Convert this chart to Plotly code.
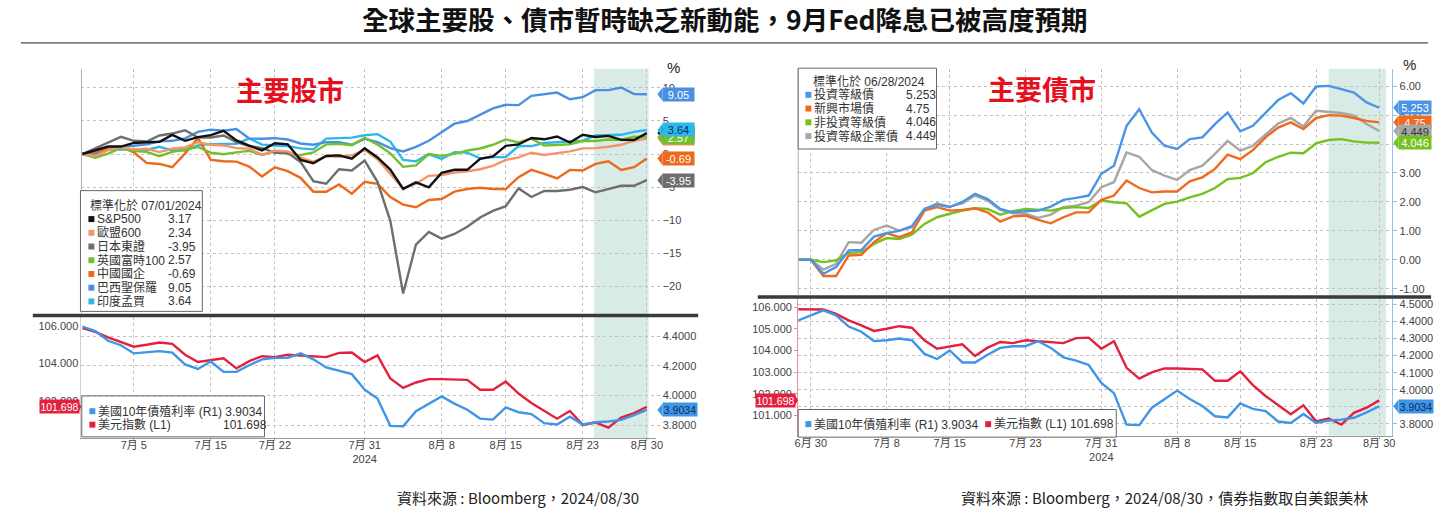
import pandas as pd
import plotly.graph_objects as go

W, H = 1449, 512

# trading days shown on the x axes
days = [d.strftime("%Y-%m-%d") for d in pd.bdate_range("2024-07-01", "2024-08-30")]
bond_days = ["2024-06-27", "2024-06-28"] + days

# ---- left: stock indices, % change since 07/01/2024 ----
sp500 = [0, 0.62, 1.13, 1.13, 1.68, 1.79, 1.86, 2.90, 2.00, 2.56, 2.85, 3.51, 2.07, 1.27, 0.55,
         1.63, 1.47, -0.88, -1.39, -0.29, -0.21, -0.71, 0.86, -0.52, -2.35, -5.27, -4.29, -5.03,
         -2.85, -2.39, -2.39, -0.74, -0.36, 1.24, 1.45, 2.43, 2.23, 2.66, 1.75, 2.91, 2.59, 2.75,
         2.14, 2.13, 3.17]
stoxx600 = [0, -0.3, 0.6, 1.0, 0.7, 0.8, 0.3, 0.8, 1.0, 1.8, 1.4, 1.3, 0.9, 0.8, -0.1, 0.5, 0.4,
            -0.5, -1.2, -0.3, -0.4, -0.2, 0.6, -0.8, -3.0, -5.2, -4.5, -3.3, -3.2, -2.8, -2.6,
            -2.3, -1.8, -0.9, -0.5, 0.2, -0.15, 0.1, 0.4, 0.86, 0.9, 1.1, 1.4, 2.0, 2.34]
topix = [0, 0.9, 1.7, 2.6, 2.0, 1.9, 2.8, 3.1, 3.6, 2.5, 2.5, 2.8, 1.8, 1.2, 0.9, 0.2, 0.2, -1.2,
         -4.1, -4.5, -2.3, -2.5, -1.0, -4.2, -10.1, -21.1, -13.7, -11.8, -12.8, -12.1, -11.0,
         -9.6, -8.6, -7.9, -5.2, -6.5, -5.6, -5.6, -5.4, -5.0, -5.8, -5.3, -4.8, -4.8, -3.95]
ftse100 = [0, -0.56, 0.05, 0.91, 0.45, 0.33, -0.33, 0.33, 0.69, 1.06, 0.20, -0.02, 0.25, 0.47,
           -0.14, 0.39, 0.01, -0.16, 0.24, 1.46, 1.54, 1.32, 2.46, 1.43, 0.10, -1.94, -1.72, 0.00,
           -0.27, 0.02, 0.53, 0.84, 1.40, 2.21, 1.77, 2.33, 1.30, 1.43, 1.48, 1.97, 1.97, 2.19,
           2.17, 2.61, 2.57]
hscei = [0, 0.4, 0.75, 1.1, 0.25, -1.35, -1.5, -2.0, 0.1, 2.4, -0.9, -1.1, -1.15, -1.9, -3.4,
         -2.0, -2.6, -3.6, -5.7, -5.7, -4.6, -6.0, -4.2, -4.5, -6.5, -7.65, -8.05, -6.95, -6.8,
         -5.7, -5.3, -5.1, -5.3, -5.3, -3.5, -2.4, -3.0, -3.7, -2.4, -2.5, -1.5, -1.1, -2.4,
         -2.0, -0.69]
bovespa = [0, 0.06, 0.76, 1.16, 1.24, 1.47, 1.92, 2.0, 2.37, 3.35, 3.69, 3.52, 3.79, 2.35, 2.32,
           2.4, 2.2, 1.6, 1.4, 1.8, 1.8, 1.4, 2.3, 1.8, 0.9, 0.4, 1.1, 2.0, 3.3, 4.6, 5.0, 6.0,
           6.9, 7.45, 7.4, 8.8, 9.06, 9.3, 8.3, 8.6, 9.67, 9.67, 10.07, 9.06, 9.05]
sensex = [0, -0.04, 0.64, 0.72, 0.65, 0.61, 1.10, 0.56, 0.53, 1.31, 1.50, 1.56, 1.56, 2.35, 1.42,
          1.29, 1.20, 0.85, 0.71, 2.34, 2.36, 2.49, 2.85, 3.01, 1.89, -0.90, -1.11, -0.01, -0.74,
          0.29, 0.22, -0.65, -0.47, -0.47, 1.21, 1.19, 1.67, 1.80, 1.98, 2.03, 2.80, 2.81, 2.91,
          3.35, 3.64]

stock_names = ["S&P500", "歐盟600", "日本東證", "英國富時100", "中國國企", "巴西聖保羅", "印度孟買"]
stock_labels = ["3.17", "2.34", "-3.95", "2.57", "-0.69", "9.05", "3.64"]
stock_colors = ["#111111", "#f2956b", "#6e6e6e", "#72c12c", "#ec6a1c", "#4a8fe0", "#2bb8ec"]
stock_series = [sp500, stoxx600, topix, ftse100, hscei, bovespa, sensex]

# ---- right: bond indices, % change since 06/28/2024 ----
ig = [0, 0, -0.48, -0.25, 0.32, 0.34, 0.80, 0.92, 1.0, 1.16, 1.76, 1.90, 1.82, 2.0, 2.28, 2.10,
      1.76, 1.64, 1.68, 1.70, 1.84, 2.07, 2.14, 2.22, 2.97, 3.25, 4.63, 5.20, 4.40, 3.94, 3.83,
      4.17, 4.23, 4.69, 5.09, 4.44, 4.63, 5.09, 5.52, 5.76, 5.40, 5.99, 6.01, 5.90, 5.78, 5.44,
      5.253]
em = [0, 0, -0.56, -0.56, 0.15, 0.17, 0.61, 0.92, 0.78, 0.95, 1.70, 1.82, 1.70, 1.72, 1.78, 1.64,
      1.32, 1.50, 1.53, 1.38, 1.26, 1.47, 1.64, 1.64, 2.07, 2.22, 2.74, 2.48, 2.33, 2.36, 2.36,
      2.71, 2.85, 3.14, 3.63, 3.48, 3.79, 4.23, 4.57, 4.75, 4.52, 4.90, 5.00, 4.98, 4.90, 4.80,
      4.75]
hy = [0, 0, -0.08, -0.02, 0.24, 0.26, 0.55, 0.75, 0.72, 0.87, 1.24, 1.47, 1.59, 1.70, 1.78, 1.76,
      1.56, 1.68, 1.76, 1.72, 1.70, 1.79, 1.82, 1.79, 2.05, 1.99, 1.95, 1.49, 1.70, 1.93, 2.01,
      2.16, 2.28, 2.48, 2.79, 2.83, 2.99, 3.37, 3.56, 3.70, 3.68, 4.02, 4.14, 4.17, 4.09, 4.05,
      4.046]
ig_corp = [0, 0, -0.34, -0.14, 0.61, 0.59, 1.03, 1.18, 1.01, 1.13, 1.74, 1.95, 1.84, 1.95, 2.22,
           2.05, 1.72, 1.61, 1.59, 1.45, 1.56, 1.82, 1.87, 1.99, 2.51, 2.68, 3.71, 3.56, 3.10,
           2.91, 2.76, 3.10, 3.25, 3.66, 4.11, 3.77, 3.94, 4.32, 4.71, 4.90, 4.61, 5.15, 5.11,
           5.07, 4.98, 4.69, 4.449]

bond_names = ["投資等級債", "新興市場債", "非投資等級債", "投資等級企業債"]
bond_labels = ["5.253", "4.75", "4.046", "4.449"]
bond_colors = ["#4a95e6", "#ef6a1f", "#74c21f", "#a6a6a6"]
bond_series = [ig, em, hy, ig_corp]

# ---- dollar index and US 10y yield ----
dxy = [105.89, 105.69, 105.39, 105.16, 104.90, 105.00, 105.12, 105.05, 104.47, 104.08, 104.19,
       104.28, 103.74, 104.13, 104.39, 104.34, 104.47, 104.42, 104.39, 104.34, 104.57, 104.59,
       104.08, 104.43, 103.20, 102.70, 102.99, 103.17, 103.17, 103.14, 103.13, 102.60, 102.60,
       103.04, 102.40, 101.90, 101.47, 101.06, 101.47, 100.73, 100.86, 100.58, 101.12, 101.36,
       101.698]
dxy_pre = [105.90, 105.88]
ust10y = [4.465, 4.436, 4.37, 4.34, 4.285, 4.29, 4.30, 4.29, 4.21, 4.18, 4.23, 4.16, 4.16, 4.205,
          4.245, 4.255, 4.255, 4.285, 4.245, 4.19, 4.17, 4.145, 4.04, 3.98, 3.796, 3.793, 3.895,
          3.945, 3.995, 3.946, 3.905, 3.845, 3.838, 3.92, 3.888, 3.875, 3.814, 3.805, 3.858,
          3.805, 3.82, 3.825, 3.836, 3.868, 3.9034]
ust_pre = [4.406, 4.436]

left_tickvals = ["2024-07-05", "2024-07-15", "2024-07-22", "2024-07-31", "2024-08-08",
                 "2024-08-15", "2024-08-23", "2024-08-30"]
left_ticktext = ["7月 5", "7月 15", "7月 22", "7月 31<br>2024", "8月 8", "8月 15", "8月 23", "8月 30"]
right_tickvals = ["2024-06-28", "2024-07-08", "2024-07-15", "2024-07-23", "2024-07-31",
                  "2024-08-08", "2024-08-15", "2024-08-23", "2024-08-30"]
right_ticktext = ["6月 30", "7月 8", "7月 15", "7月 23", "7月 31<br>2024", "8月 8", "8月 15",
                  "8月 23", "8月 30"]


def px(x):
    return x / W


def py(y):
    return 1 - y / H


GRID = "#c2c2c2"
LAT = "Liberation Sans, Noto Sans CJK TC"
CJK = "Noto Sans CJK TC"

# pixel frames of the four panels
L_X, L_TOP, L_BOT = (79, 658), (68, 313), (317, 437.7)
R_X, R_TOP, R_BOT = (800.7, 1399), (68, 295), (299, 435.7)

YR = {
    "y": ([-24.12, 12.89], L_TOP),
    "y2": ([100.04, 106.46], L_BOT),
    "y3": ([3.715, 4.528], L_BOT),
    "y4": ([-1.231, 6.597], R_TOP),
    "y5": ([100.06, 106.355], R_BOT),
    "y6": ([3.730, 4.529], R_BOT),
}

fig = go.Figure()

# left top
for name, vals, col in reversed(list(zip(stock_names, stock_series, stock_colors))):
    fig.add_trace(go.Scatter(x=days, y=vals, name=name, mode="lines",
                             line=dict(color=col, width=2.4), xaxis="x", yaxis="y"))
# left bottom
fig.add_trace(go.Scatter(x=days, y=ust10y, mode="lines", line=dict(color="#3f95e6", width=2.4),
                         xaxis="x2", yaxis="y3"))
fig.add_trace(go.Scatter(x=days, y=dxy, mode="lines", line=dict(color="#e3213f", width=2.4),
                         xaxis="x2", yaxis="y2"))
# right top
for name, vals, col in reversed(list(zip(bond_names, bond_series, bond_colors))):
    fig.add_trace(go.Scatter(x=bond_days, y=vals, name=name, mode="lines",
                             line=dict(color=col, width=2.4), xaxis="x3", yaxis="y4"))
# right bottom
fig.add_trace(go.Scatter(x=bond_days, y=ust_pre + ust10y, mode="lines",
                         line=dict(color="#3f95e6", width=2.4), xaxis="x4", yaxis="y6"))
fig.add_trace(go.Scatter(x=bond_days, y=dxy_pre + dxy, mode="lines",
                         line=dict(color="#e3213f", width=2.4), xaxis="x4", yaxis="y5"))

tickfont = dict(family=LAT, size=11, color="#444")
xgrid = dict(type="category", showgrid=True, griddash="dot", gridcolor=GRID, zeroline=False,
             tickfont=tickfont)
ygrid = dict(showgrid=True, griddash="dot", gridcolor=GRID, zeroline=False, tickfont=tickfont)


def dom_y(frame):
    return [py(frame[1]), py(frame[0])]


fig.update_layout(
    width=W, height=H, margin=dict(l=0, r=0, t=0, b=0),
    paper_bgcolor="white", plot_bgcolor="rgba(0,0,0,0)", showlegend=False,
    xaxis=dict(xgrid, domain=[px(L_X[0]), px(L_X[1])], range=[-0.08, 44.75], anchor="y",
               tickvals=left_tickvals, showticklabels=False, ticks=""),
    yaxis=dict(ygrid, domain=dom_y(L_TOP), range=YR["y"][0], side="right", anchor="x",
               tickvals=[-20, -15, -10, -5, 0, 5, 10], ticks="outside", ticklen=3,
               tickcolor="#bbb"),
    xaxis2=dict(xgrid, domain=[px(L_X[0]), px(L_X[1])], range=[-0.08, 44.75], anchor="y2",
                tickvals=left_tickvals, ticktext=left_ticktext, showline=True,
                linecolor="#999", ticks="outside", ticklen=2, tickcolor="#999",
                ticklabelstandoff=-5),
    yaxis2=dict(domain=dom_y(L_BOT), range=YR["y2"][0], side="left", anchor="x2",
                tickvals=[102, 104, 106], ticktext=["102.000", "104.000", "106.000"],
                showgrid=False, zeroline=False, showline=True, linecolor="#d0d0d0",
                tickfont=tickfont),
    yaxis3=dict(ygrid, overlaying="y2", side="right", anchor="x2", range=YR["y3"][0],
                tickvals=[3.8, 4.0, 4.2, 4.4], ticktext=["3.8000", "4.0000", "4.2000", "4.4000"],
                ticks="outside", ticklen=3, tickcolor="#bbb"),
    xaxis3=dict(xgrid, domain=[px(R_X[0]), px(R_X[1])], range=[0, 47.04], anchor="y4",
                tickvals=right_tickvals, showticklabels=False, ticks=""),
    yaxis4=dict(ygrid, domain=dom_y(R_TOP), range=YR["y4"][0], side="right", anchor="x3",
                tickvals=[-1, 0, 1, 2, 3, 4, 5, 6],
                ticktext=["-1.00", "0.00", "1.00", "2.00", "3.00", "4.00", "5.00", "6.00"],
                showline=True, linecolor="#8fc3ee", ticks="outside", ticklen=4,
                tickcolor="#8fc3ee"),
    xaxis4=dict(xgrid, domain=[px(R_X[0]), px(R_X[1])], range=[0, 47.04], anchor="y5",
                tickvals=right_tickvals, ticktext=right_ticktext, showline=True,
                linecolor="#999", ticks="outside", ticklen=2, tickcolor="#999",
                ticklabelstandoff=-5),
    yaxis5=dict(domain=dom_y(R_BOT), range=YR["y5"][0], side="left", anchor="x4",
                tickvals=[101, 102, 103, 104, 105, 106],
                ticktext=["101.000", "102.000", "103.000", "104.000", "105.000", "106.000"],
                showgrid=False, zeroline=False, showline=True, linecolor="#ee8c9c",
                ticks="outside", ticklen=3, tickcolor="#ee8c9c", tickfont=tickfont),
    yaxis6=dict(ygrid, overlaying="y5", side="right", anchor="x4", range=YR["y6"][0],
                tickvals=[3.8, 3.9, 4.0, 4.1, 4.2, 4.3, 4.4, 4.5],
                ticktext=["3.8000", "3.9000", "4.0000", "4.1000", "4.2000", "4.3000", "4.4000",
                          "4.5000"],
                showline=True, linecolor="#8fc3ee", ticks="outside", ticklen=4,
                tickcolor="#8fc3ee"),
)

# shaded window (last week of August)
SHADE = "#d9ebe6"
fig.add_shape(type="rect", xref="x", yref="paper", x0=days.index("2024-08-26") - 0.12,
              x1=len(days) - 1 + 0.13, y0=py(L_BOT[1]), y1=py(L_TOP[0]),
              fillcolor=SHADE, line_width=0, layer="below")
fig.add_shape(type="rect", xref="x3", yref="paper", x0=bond_days.index("2024-08-26"),
              x1=len(bond_days) - 1 + 0.54, y0=py(R_BOT[1]), y1=py(R_TOP[0]),
              fillcolor=SHADE, line_width=0, layer="below")

# panel separators, left borders, title rule
for x0, x1, y in [(30, 700, 315), (760, 1438, 296.5)]:
    fig.add_shape(type="line", xref="paper", yref="paper", x0=px(x0), x1=px(x1), y0=py(y),
                  y1=py(y), line=dict(color="#3a3a3a", width=3.5))
for x, (y0, y1) in [(L_X[0], L_TOP), (R_X[0], R_TOP)]:
    fig.add_shape(type="line", xref="paper", yref="paper", x0=px(x), x1=px(x), y0=py(y0),
                  y1=py(y1), line=dict(color="#b0b0b0", width=1))
fig.add_shape(type="line", xref="paper", yref="paper", x0=px(18), x1=px(1435), y0=py(42),
              y1=py(42), line=dict(color="#222", width=1))


def tag(ax, val, text, bg, fg, tip, body, w=31, h=13, size=11):
    (r0, r1), (t, b) = YR[ax]
    hh = (h / 2) * (r1 - r0) / (b - t)
    fig.add_shape(type="path", xref="paper", yref=ax, layer="above",
                  path=f"M {px(tip)},{val} L {px(body)},{val + hh} L {px(body)},{val - hh} Z",
                  fillcolor=bg, line_width=0)
    left = body if body > tip else body - w
    fig.add_annotation(xref="paper", yref=ax, x=px(left), y=val, xanchor="left",
                       yanchor="middle", text=text, showarrow=False, width=w, height=h,
                       bgcolor=bg, borderpad=0, font=dict(family=LAT, size=size, color=fg))


# value tags, left top
tag("y", bovespa[-1], "9.05", "#4a8fe0", "white", 659, 664)
tag("y", sp500[-1], "3.17", "#111111", "white", 659, 664)
tag("y", stoxx600[-1], "2.34", "#f2956b", "white", 659, 664)
tag("y", ftse100[-1], "2.57", "#72c12c", "white", 659, 664)
tag("y", sensex[-1], "3.64", "#2bb8ec", "#0d2c5c", 659, 664)
tag("y", hscei[-1], "-0.69", "#ec6a1c", "white", 659, 664)
tag("y", topix[-1], "-3.95", "#6e6e6e", "white", 659, 664)
# left bottom
tag("y3", ust10y[-1], "3.9034", "#3f95e6", "#0d2c5c", 659, 664, w=34, size=10.5)
tag("y2", dxy[-1], "101.698", "#e3213f", "white", 79, 75, w=39, size=10.5)
# right top
tag("y4", ig[-1], "5.253", "#4a95e6", "white", 1400, 1405, w=32)
tag("y4", em[-1], "4.75", "#ef6a1f", "white", 1400, 1405, w=32)
tag("y4", ig_corp[-1], "4.449", "#a6a6a6", "#333", 1400, 1405, w=32)
tag("y4", hy[-1], "4.046", "#74c21f", "white", 1400, 1405, w=32)
# right bottom
tag("y6", ust10y[-1], "3.9034", "#3f95e6", "#0d2c5c", 1400, 1405, w=34, size=10.5)
tag("y5", dxy[-1], "101.698", "#e3213f", "white", 800.7, 796.5, w=39, size=10.5)

LEG = dict(family=LAT, size=12, color="#333")


def box(x0, y0, x1, y1):
    fig.add_shape(type="rect", xref="paper", yref="paper", x0=px(x0), x1=px(x1), y0=py(y1),
                  y1=py(y0), fillcolor="white", line=dict(color="#666", width=1), layer="above")


def text(x, y, s, font=LEG, anchor="left"):
    fig.add_annotation(xref="paper", yref="paper", x=px(x), y=py(y), xanchor=anchor,
                       yanchor="middle", text=s, showarrow=False, font=font)


def row(xsq, y, color, name):
    fig.add_shape(type="rect", xref="paper", yref="paper", x0=px(xsq), x1=px(xsq + 6),
                  y0=py(y + 3), y1=py(y - 3), fillcolor=color, line_width=0, layer="above")
    text(xsq + 6.5, y, name)


# legend: stocks
box(78, 190, 200.7, 311)
text(86, 205, "標準化於 07/01/2024")
for k, (name, lab, col) in enumerate(zip(stock_names, stock_labels, stock_colors)):
    y = 218.5 + 13.75 * k
    row(86, y, col, name)
    text(164, y, lab)

# legend: bonds
box(800.7, 67.3, 940, 148.3)
text(814, 80.7, "標準化於 06/28/2024")
for k, (name, lab, col) in enumerate(zip(bond_names, bond_labels, bond_colors)):
    y = 94 + 13.8 * k
    row(808, y, col, name)
    text(907, y, lab)

# legend: dollar / yield, left
box(79.3, 395.7, 263.3, 436.7)
row(87, 411, "#3f95e6", "美國10年債殖利率 (R1) 3.9034")
row(87, 424.5, "#e3213f", "美元指數 (L1)")
text(220, 424.5, "101.698")

# legend: dollar / yield, right
box(800.7, 409.3, 1121, 437)
row(808, 424, "#3f95e6", "美國10年債殖利率 (R1) 3.9034")
row(989, 424, "#e3213f", "美元指數 (L1) 101.698")

# titles and notes
text(727, 18, "<b>全球主要股、債市暫時缺乏新動能，9月Fed降息已被高度預期</b>",
     dict(family=CJK, size=26.5, color="#111"), "center")
text(289, 89, "<b>主要股市</b>", dict(family=CJK, size=27, color="#e60f1e"), "center")
text(1046, 88, "<b>主要債市</b>", dict(family=CJK, size=27, color="#e60f1e"), "center")
text(675, 67, "%", dict(family=LAT, size=15, color="#222"), "center")
text(1416, 64, "%", dict(family=LAT, size=15, color="#222"), "center")
text(519, 497, "資料來源 : Bloomberg，2024/08/30", dict(family=CJK, size=15, color="#222"),
     "center")
text(1170, 497, "資料來源 : Bloomberg，2024/08/30，債券指數取自美銀美林",
     dict(family=CJK, size=15, color="#222"), "center")

# the page body margin would shift the figure; remove it
fig.write_html("out.html", config={"displayModeBar": False},
               post_script="document.body.style.margin='0';")
